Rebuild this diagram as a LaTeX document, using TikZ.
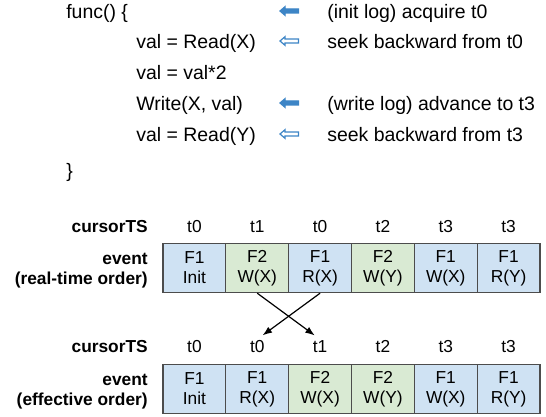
\documentclass[tikz,border=0pt]{standalone}
\usepackage{fontspec}
\setmainfont{Liberation Sans}
\usetikzlibrary{arrows.meta,calc,positioning}
\definecolor{cellblue}{HTML}{CFE2F3}
\definecolor{cellgreen}{HTML}{D9EAD3}
\definecolor{logblue}{HTML}{3D85C6}

\begin{document}
\begin{tikzpicture}[x=0.75pt,y=-0.75pt,>=Latex,
  code/.style={anchor=base west,inner sep=0pt,font=\fontsize{14.6}{17}\selectfont},
  cell/.style={draw=black!70,line width=0.8pt,minimum width=47.1pt,minimum height=37pt,
    inner sep=0pt,align=center,font=\fontsize{13}{15}\selectfont},
  ts/.style={inner sep=1pt,font=\fontsize{13}{15}\selectfont},
  rowlabel/.style={anchor=east,inner sep=0pt,align=right,font=\bfseries\fontsize{13}{15}\selectfont}]
  \useasboundingbox (0,0) rectangle (546,417);
  % code lines
  \node[code] (fn)   at (66,19)   {func() \{};
  \node[code] (rdx)  at (136,49)  {val = Read(X)};
  \node[code] (mul)  at (136,80)  {val = val*2};
  \node[code] (wrx)  at (136,111) {Write(X, val)};
  \node[code] (rdy)  at (136,142) {val = Read(Y)};
  \node[code] (cls)  at (66,178)  {\}};
  % log notes
  \node[code] (n1) at (327,19)  {(init log) acquire t0};
  \node[code] (n2) at (327,49)  {seek backward from t0};
  \node[code] (n3) at (327,111) {(write log) advance to t3};
  \node[code] (n4) at (327,142) {seek backward from t3};
  % block arrows: filled = log op, hollow = seek
  \foreach \y/\f in {11/logblue,41/white,103/logblue,134/white}{
    \draw[logblue,fill=\f,line width=0.9pt,line join=miter]
      (280,\y) -- ++(5,-4.3) -- ++(0,2.3) -- ++(13.5,0) -- ++(0,4) -- ++(-13.5,0)
      -- ++(0,2.3) -- cycle;
  }
  % real-time order
  \node[rowlabel] (lts) at (148,227) {cursorTS};
  \node[rowlabel] (lev) at (148,271) {event\\(real-time order)};
  \foreach \i/\c/\txt/\t in {1/cellblue/{F1\\Init}/t0,2/cellgreen/{F2\\W(X)}/t1,
      3/cellblue/{F1\\R(X)}/t0,4/cellgreen/{F2\\W(Y)}/t2,
      5/cellblue/{F1\\W(X)}/t3,6/cellblue/{F1\\R(Y)}/t3}{
    \node[cell,fill=\c] (rt\i) at ({163+62.83*(\i-0.5)},268) {\txt};
    \node[ts] (rts\i) at ({163+62.83*(\i-0.5)},227) {\t};
  }
  % effective order
  \node[rowlabel] (ets) at (148,347) {cursorTS};
  \node[rowlabel] (eev) at (148,392) {event\\(effective order)};
  \foreach \i/\c/\txt/\t in {1/cellblue/{F1\\Init}/t0,2/cellblue/{F1\\R(X)}/t0,
      3/cellgreen/{F2\\W(X)}/t1,4/cellgreen/{F2\\W(Y)}/t2,
      5/cellblue/{F1\\W(X)}/t3,6/cellblue/{F1\\R(Y)}/t3}{
    \node[cell,fill=\c] (ef\i) at ({163+62.83*(\i-0.5)},389) {\txt};
    \node[ts] (efts\i) at ({163+62.83*(\i-0.5)},347) {\t};
  }
  % reordering
  \draw[->,line width=0.9pt,shorten >=5pt] (rt2.south) -- (efts3.north);
  \draw[->,line width=0.9pt,shorten >=5pt] (rt3.south) -- (efts2.north);
\end{tikzpicture}
\end{document}
